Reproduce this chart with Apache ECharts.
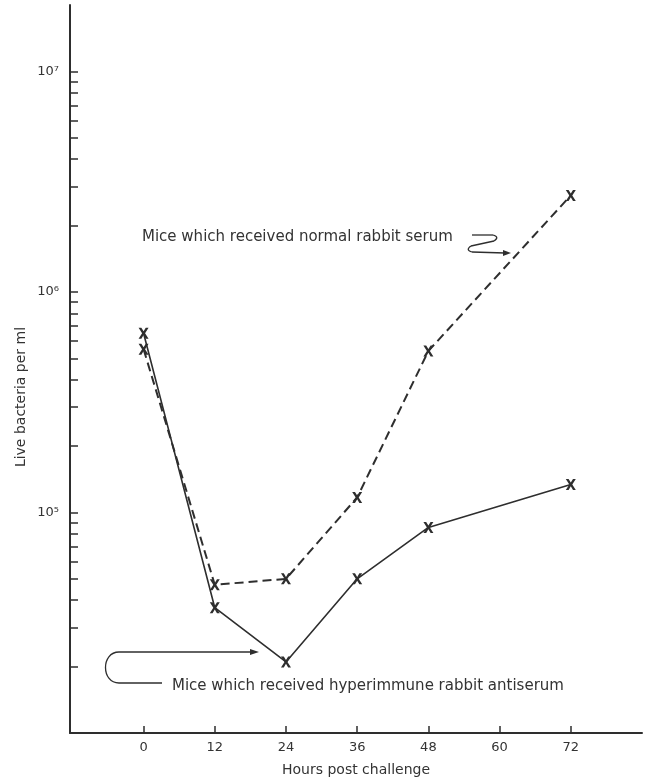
<!DOCTYPE html>
<html>
<head>
<meta charset="utf-8">
<script src="https://cdn.jsdelivr.net/npm/echarts@6/dist/echarts.min.js"></script>
<style>
    html, body { margin: 0; padding: 0; background: #fff; }
    #chart { width: 651px; height: 779px; }
</style>
</head>
<body>
<div id="chart"></div>
<script>
// hours after challenge
var hours = [0, 12, 24, 36, 48, 72];
// live bacteria per ml
var normalSerum = [5.5e5, 4.7e4, 5.0e4, 1.17e5, 5.4e5, 2.74e6];
var hyperimmune = [6.5e5, 3.7e4, 2.1e4, 5.0e4, 8.55e4, 1.34e5];
var xTicks = [0, 12, 24, 36, 48, 60, 72];
var yLabelTicks = [1e5, 1e6, 1e7];
var yMinorTicks = [2e4, 3e4, 4e4, 5e4, 6e4, 7e4, 8e4, 9e4, 1e5,
    2e5, 3e5, 4e5, 5e5, 6e5, 7e5, 8e5, 9e5, 1e6,
    2e6, 3e6, 4e6, 5e6, 6e6, 7e6, 8e6, 9e6, 1e7];
var normalLabel = 'Mice which received normal rabbit serum';
var hyperLabel = 'Mice which received hyperimmune rabbit antiserum';

var ink = '#2e2e2e';
var font = 'DejaVu Sans';
var xMark = 'path://M0,0L2.8,0L5,3.3L7.2,0L10,0L6.5,5L10,10L7.2,10L5,6.7L2.8,10L0,10L3.5,5Z';

function pairs(xs, ys) {
    var out = [];
    for (var i = 0; i < xs.length; i++) {
        out.push([xs[i], ys[i]]);
    }
    return out;
}

var sup = { '4': '\u2074', '5': '\u2075', '6': '\u2076', '7': '\u2077' };

// pointer strokes for the two callouts
var stroke = { stroke: ink, lineWidth: 1.3, fill: null };
function seg(x1, y1, x2, y2) {
    return { type: 'line', shape: { x1: x1, y1: y1, x2: x2, y2: y2 }, style: stroke };
}
function curve(x1, y1, cx1, cy1, cx2, cy2, x2, y2) {
    var shape = { x1: x1, y1: y1, x2: x2, y2: y2, cpx1: cx1, cpy1: cy1 };
    if (cx2 !== null) {
        shape.cpx2 = cx2;
        shape.cpy2 = cy2;
    }
    return { type: 'bezierCurve', shape: shape, style: stroke };
}

var chartDom = document.getElementById('chart');
var chart = echarts.init(chartDom, null, { renderer: 'canvas' });

var option = {
    backgroundColor: '#fff',
    animation: false,
    grid: { left: 70, right: 9, top: 5, bottom: 46, outerBoundsMode: 'none' },
    xAxis: {
        type: 'value',
        min: -12.4,
        max: 84,
        axisLine: { show: true, onZero: false, lineStyle: { color: ink, width: 2 } },
        axisTick: {
            show: true, inside: true, length: 7,
            customValues: xTicks,
            lineStyle: { color: ink, width: 1.5 }
        },
        axisLabel: {
            customValues: xTicks,
            margin: 8,
            color: '#333',
            fontFamily: font,
            fontSize: 13
        },
        splitLine: { show: false },
        name: 'Hours post challenge',
        nameLocation: 'middle',
        nameGap: 30,
        nameTextStyle: { color: '#333', fontFamily: font, fontSize: 14 }
    },
    yAxis: {
        type: 'log',
        logBase: 10,
        min: 1e4,
        max: 2e7,
        axisLine: { show: true, onZero: false, lineStyle: { color: ink, width: 2 } },
        axisTick: {
            show: true, inside: true, length: 8,
            customValues: yMinorTicks,
            lineStyle: { color: ink, width: 1.5 }
        },
        axisLabel: {
            customValues: yLabelTicks,
            margin: 11,
            color: '#333',
            fontFamily: font,
            fontSize: 13,
            formatter: function (v) {
                var e = Math.round(Math.log(v) / Math.LN10);
                return '10' + sup[String(e)];
            }
        },
        splitLine: { show: false }
    },
    series: [
        {
            name: normalLabel,
            type: 'line',
            data: pairs(hours, normalSerum),
            symbol: xMark,
            symbolSize: [10, 11],
            itemStyle: { color: ink },
            lineStyle: { color: ink, width: 2, type: [9, 5] },
            z: 3
        },
        {
            name: hyperLabel,
            type: 'line',
            data: pairs(hours, hyperimmune),
            symbol: xMark,
            symbolSize: [10, 11],
            itemStyle: { color: ink },
            lineStyle: { color: ink, width: 1.6 },
            z: 4
        }
    ],
    graphic: [
        {
            type: 'text',
            x: 21, y: 397,
            rotation: Math.PI / 2,
            style: {
                text: 'Live bacteria per ml',
                fill: '#333',
                font: '14px "' + font + '"',
                align: 'center',
                verticalAlign: 'middle'
            }
        },
        {
            type: 'text',
            x: 142, y: 237,
            style: {
                text: normalLabel,
                fill: '#333',
                font: '15px "' + font + '"',
                align: 'left',
                verticalAlign: 'middle'
            }
        },
        seg(472, 235, 493, 235),
        curve(493, 235, 500, 237, null, null, 494, 241),
        seg(494, 241, 471, 246),
        curve(471, 246, 465, 250, null, null, 472, 252),
        seg(472, 252, 505, 253),
        {
            type: 'polygon',
            shape: { points: [[511, 253], [503, 250], [503, 256]] },
            style: { fill: ink }
        },
        {
            type: 'text',
            x: 172, y: 686,
            style: {
                text: hyperLabel,
                fill: '#333',
                font: '15px "' + font + '"',
                align: 'left',
                verticalAlign: 'middle'
            }
        },
        seg(162, 683, 119, 683),
        curve(119, 683, 101, 683, 101, 652, 119, 652),
        seg(119, 652, 252, 652),
        {
            type: 'polygon',
            shape: { points: [[259, 652], [250, 649], [250, 655]] },
            style: { fill: ink }
        }
    ]
};

chart.setOption(option);
</script>
</body>
</html>
